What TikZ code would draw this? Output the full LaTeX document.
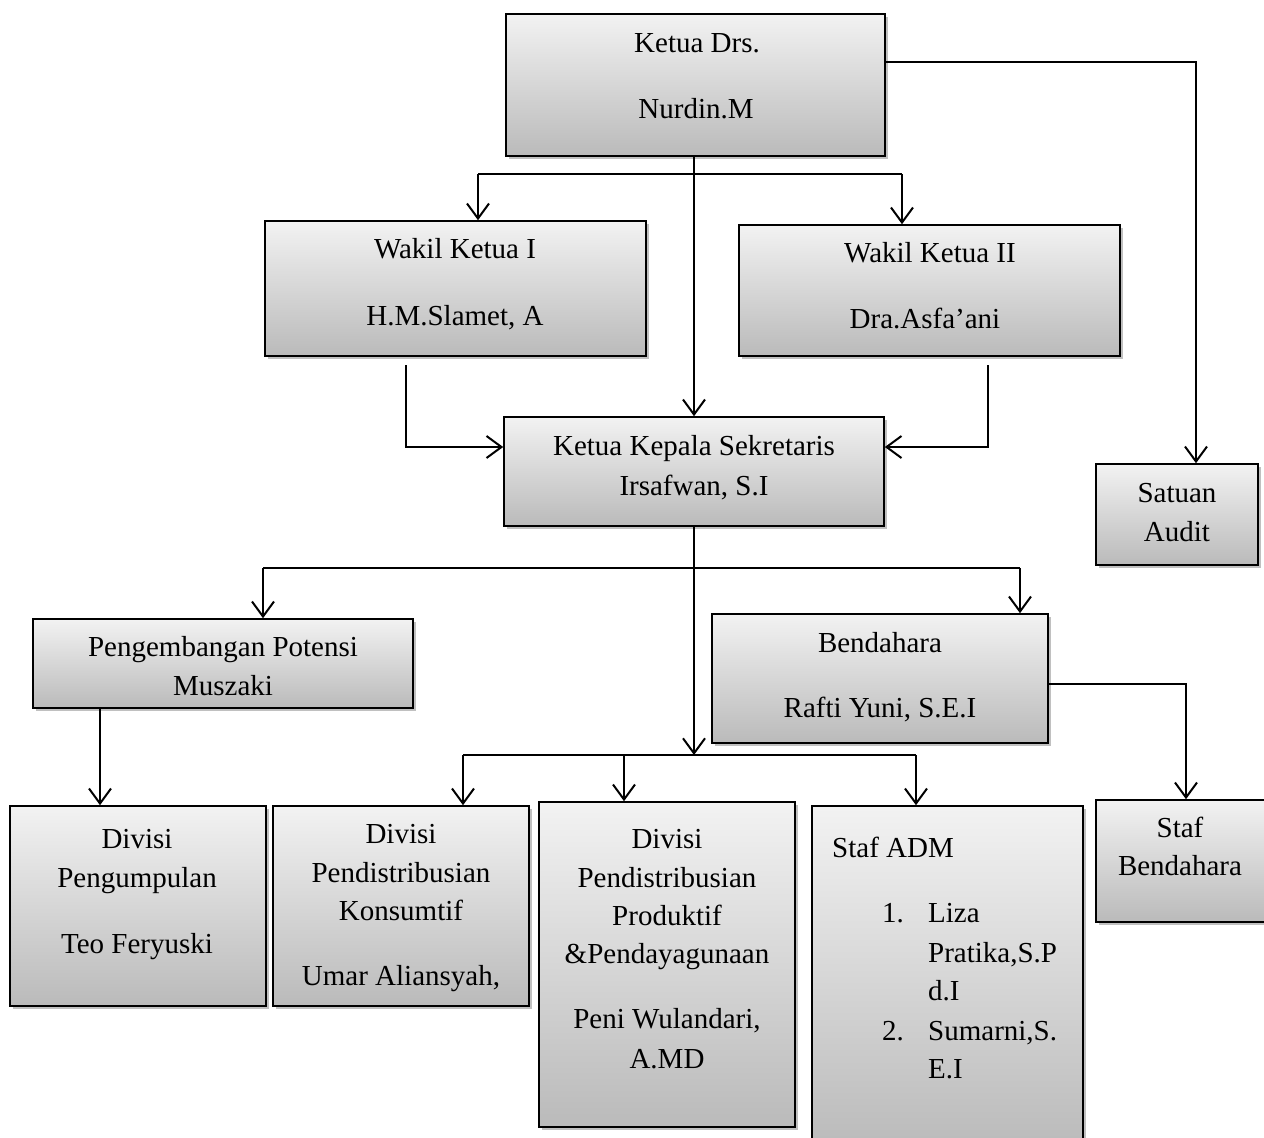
\documentclass[tikz,border=0pt]{standalone}
\usepackage{fontspec}
\setmainfont{Liberation Serif}
\usetikzlibrary{arrows.meta,shadows}
\begin{document}
\begin{tikzpicture}[x=1pt,y=-1pt,
  box/.style={draw=black, line width=1.6pt, top color=black!5, bottom color=black!27,
    drop shadow={shadow xshift=2.5pt, shadow yshift=-3pt, fill=black!55, opacity=0.45},
    inner sep=0pt, rectangle},
  t/.style={font=\fontsize{29}{34}\selectfont, inner sep=0pt, anchor=base},
  tl/.style={t, anchor=base west},
  ln/.style={line width=2pt},
  arr/.style={ln, -{Straight Barb[length=15pt,width=22pt]}}
]
\useasboundingbox (0,0) rectangle (1264,1138);
\clip (0,0) rectangle (1264,1138);

% boxes
\node[box, minimum width=379pt, minimum height=142pt] (ketua) at (695.5,85) {};
\node[box, minimum width=381pt, minimum height=135pt] (wakil1) at (455.5,288.5) {};
\node[box, minimum width=381pt, minimum height=131pt] (wakil2) at (929.5,290.5) {};
\node[box, minimum width=380pt, minimum height=109pt] (sek) at (694,471.5) {};
\node[box, minimum width=162pt, minimum height=101pt] (satuan) at (1177,514.5) {};
\node[box, minimum width=380pt, minimum height=89pt] (peng) at (223,663.5) {};
\node[box, minimum width=336pt, minimum height=129pt] (bend) at (880,678.5) {};
\node[box, minimum width=256pt, minimum height=200pt] (div1) at (138,906) {};
\node[box, minimum width=256pt, minimum height=200pt] (div2) at (401,906) {};
\node[box, minimum width=256pt, minimum height=325pt] (div3) at (667,964.5) {};
\node[box, minimum width=271pt, minimum height=344pt] (adm) at (947.5,978) {};
\node[box, minimum width=179pt, minimum height=122pt] (sbend) at (1185.5,861) {};

% texts
\node[t] (k1) at (697,52) {Ketua Drs.};
\node[t] (k2) at (696,118) {Nurdin.M};
\node[t] (w1a) at (455,258) {Wakil Ketua I};
\node[t] (w1b) at (455,325) {H.M.Slamet, A};
\node[t] (w2a) at (930,262) {Wakil Ketua II};
\node[t] (w2b) at (925,328) {Dra.Asfa’ani};
\node[t] (s1) at (694,455) {Ketua Kepala Sekretaris};
\node[t] (s2) at (694,495) {Irsafwan, S.I};
\node[t] (sa1) at (1177,502) {Satuan};
\node[t] (sa2) at (1177,541) {Audit};
\node[t] (p1) at (223,656) {Pengembangan Potensi};
\node[t] (p2) at (223,695) {Muszaki};
\node[t] (b1) at (880,652) {Bendahara};
\node[t] (b2) at (880,717) {Rafti Yuni, S.E.I};
\node[t] (d1a) at (137,848) {Divisi};
\node[t] (d1b) at (137,887) {Pengumpulan};
\node[t] (d1c) at (137,953) {Teo Feryuski};
\node[t] (d2a) at (401,843) {Divisi};
\node[t] (d2b) at (401,882) {Pendistribusian};
\node[t] (d2c) at (401,920) {Konsumtif};
\node[t] (d2d) at (401,985) {Umar Aliansyah,};
\node[t] (d3a) at (667,848) {Divisi};
\node[t] (d3b) at (667,887) {Pendistribusian};
\node[t] (d3c) at (667,925) {Produktif};
\node[t] (d3d) at (667,963) {\&Pendayagunaan};
\node[t] (d3e) at (667,1028) {Peni Wulandari,};
\node[t] (d3f) at (667,1068) {A.MD};
\node[tl] (a0) at (832,857) {Staf ADM};
\node[tl] (a1n) at (882,922) {1.};
\node[tl] (a1a) at (928,922) {Liza};
\node[tl] (a1b) at (928,962) {Pratika,S.P};
\node[tl] (a1c) at (928,1000) {d.I};
\node[tl] (a2n) at (882,1040) {2.};
\node[tl] (a2a) at (928,1040) {Sumarni,S.};
\node[tl] (a2b) at (928,1078) {E.I};
\node[t] (sb1) at (1180,837) {Staf};
\node[t] (sb2) at (1180,875) {Bendahara};

% connector points
\coordinate (busAl) at (478,174);
\coordinate (busAr) at (902,174);
\coordinate (auditR) at (1196,62);
\coordinate (w1out) at (406,365);
\coordinate (w1turn) at (406,447);
\coordinate (w2out) at (988,365);
\coordinate (w2turn) at (988,447);
\coordinate (busBl) at (263,568);
\coordinate (busBr) at (1020,568);
\coordinate (busCm) at (694,755);
\coordinate (busCl) at (463,755);
\coordinate (busCr) at (916,755);
\coordinate (bendR) at (1186,684);

% connectors
\draw[arr] (ketua.south -| sek.north) -- (sek.north);
\draw[ln] (busAl) -- (busAr);
\draw[arr] (busAl) -- (busAl |- wakil1.north);
\draw[arr] (busAr) -- (busAr |- wakil2.north);
\draw[arr] (ketua.east |- auditR) -- (auditR) -- (auditR |- satuan.north);
\draw[arr] (w1out) -- (w1turn) -- (sek.west |- w1turn);
\draw[arr] (w2out) -- (w2turn) -- (sek.east |- w2turn);
\draw[arr] (sek.south) -- (busCm);
\draw[ln] (busCl) -- (busCr);
\draw[ln] (busBl) -- (busBr);
\draw[arr] (busBl) -- (busBl |- peng.north);
\draw[arr] (busBr) -- (busBr |- bend.north);
\draw[arr] (busCl) -- (busCl |- div2.north);
\draw[arr] (div3.north |- busCm) ++(-43,0) coordinate (busCd3) -- (busCd3 |- div3.north);
\draw[arr] (busCr) -- (busCr |- adm.north);
\draw[arr] (peng.south -| 100,0) -- (div1.north -| 100,0);
\draw[arr] (bend.east |- bendR) -- (bendR) -- (bendR |- sbend.north);
\end{tikzpicture}
\end{document}
